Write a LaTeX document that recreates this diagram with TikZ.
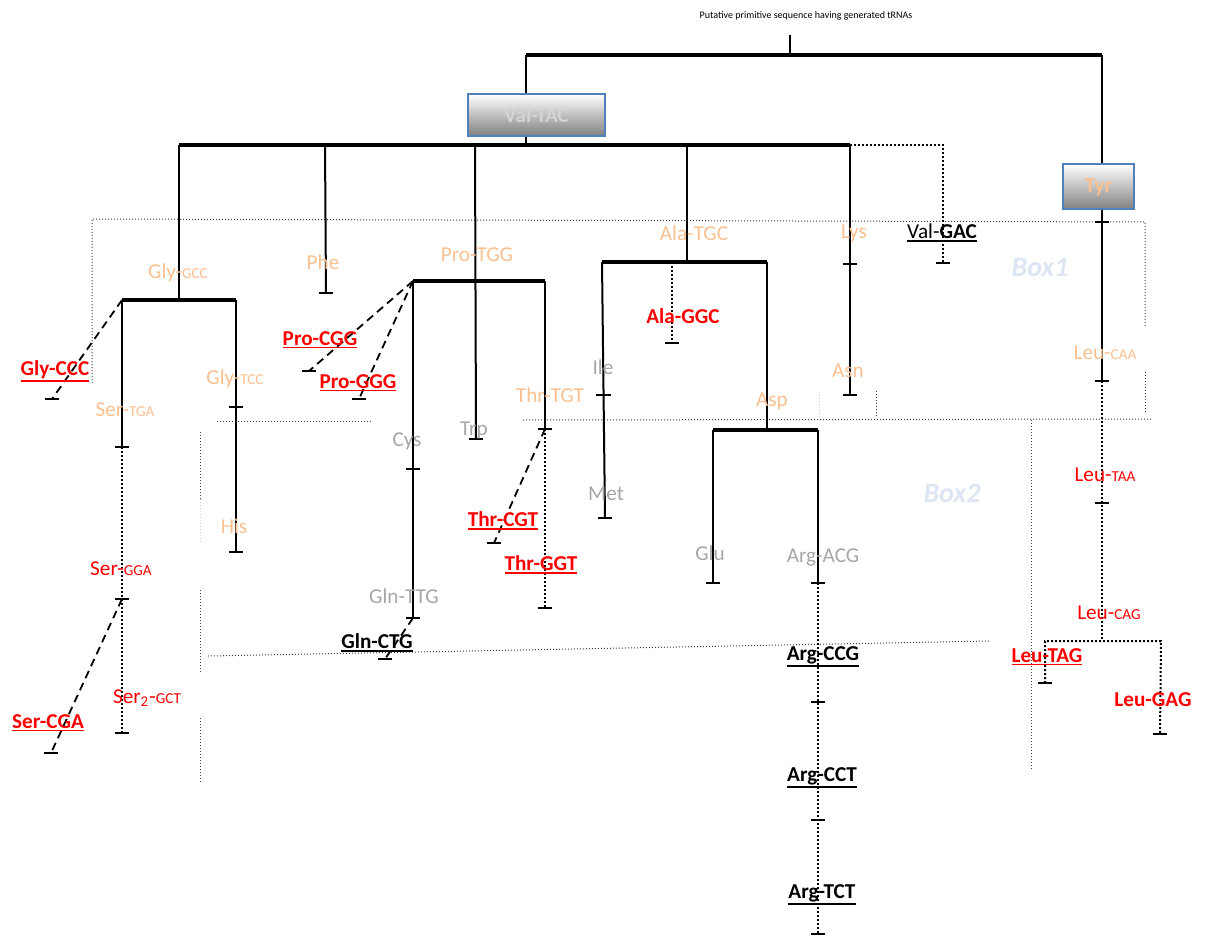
\documentclass[tikz,border=0pt]{standalone}
\usepackage{fontspec}
\setmainfont{Carlito}
\definecolor{lorange}{HTML}{FAC090}
\definecolor{lgray}{HTML}{A6A6A6}
\definecolor{boxblue}{HTML}{4F81BD}
\definecolor{boxlbl}{HTML}{DCE6F2}
\definecolor{valtxt}{HTML}{D4D4D4}
\newcommand\myul[1]{\vtop{\hbox{#1}\kern0.5pt\hrule height 0.9pt}}
\newcommand\sm[1]{{\fontsize{7.6}{9}\selectfont #1}}
\newcommand\tk[1]{\draw[tickline] ([xshift=-3.6pt]#1) -- ([xshift=3.6pt]#1);}
\tikzset{
  lbl/.style={inner sep=0pt, font=\fontsize{10.6}{12}\selectfont},
  orl/.style={lbl, text=lorange},
  gyl/.style={lbl, text=lgray},
  rdl/.style={lbl, text=red},
  rdb/.style={lbl, text=red, font=\fontsize{10.6}{12}\selectfont\bfseries},
  bkb/.style={lbl, text=black, font=\fontsize{10.6}{12}\selectfont\bfseries},
  boxlabel/.style={inner sep=0pt, text=boxlbl, font=\fontsize{14}{16}\selectfont\bfseries\itshape},
  gradbox/.style={draw=boxblue, line width=1pt, top color=white, bottom color=black!50, inner sep=0pt, font=\fontsize{10.6}{12}\selectfont\bfseries},
  treeline/.style={line width=1pt, black},
  treebar/.style={line width=1.8pt, black},
  treedot/.style={line width=1pt, black, dash pattern=on 1pt off 1pt},
  treedash/.style={line width=0.9pt, black, dash pattern=on 4pt off 2.6pt},
  tickline/.style={line width=1pt, black},
  boxdot/.style={line width=0.5pt, black!75, dash pattern=on 0.5pt off 1pt},
  faintdot/.style={line width=0.5pt, black!20, dash pattern=on 0.5pt off 1pt},
}
\begin{document}
\begin{tikzpicture}[x=0.5pt,y=-0.5pt]
\useasboundingbox (0,0) rectangle (1209,936);

% title
\node[inner sep=0pt, font=\fontsize{5}{6}\selectfont] (title) at (806,16) {Putative primitive sequence having generated tRNAs};

% boxes
\node[gradbox, minimum width=68.5pt, minimum height=21pt, text=valtxt] (val) at (536.5,115) {Val-TAC};
\node[gradbox, minimum width=35.5pt, minimum height=22.5pt, text=lorange] (tyr) at (1098.5,187) {Tyr};

% dotted box outlines
\draw[boxdot] (92,383) -- (92,219) -- (1145,222) -- (1145,327);
\draw[boxdot] (1145,372) -- (1145,413);
\draw[boxdot] (217,421) -- (372,421);
\draw[boxdot] (523,420) -- (1152,419);
\draw[boxdot] (876,391) -- (876,416);
\draw[faintdot] (819,392) -- (819,417);
\draw[boxdot] (1031,420) -- (1031,770);
\draw[boxdot] (200,432) -- (200,499);
\draw[faintdot] (200,499) -- (200,543);
\draw[boxdot] (200,590) -- (200,672);
\draw[boxdot] (200,718) -- (200,783);
\draw[boxdot] (208,656) -- (990,641);

\node[boxlabel] (box1) at (1040,268) {Box1};
\node[boxlabel] (box2) at (952,493) {Box2};

% coordinates
\coordinate (r0) at (790,35);
\coordinate (r1) at (790,55);
\coordinate (tl) at (526,55);
\coordinate (tr) at (1102,55);
\coordinate (v0) at (526,145);
\coordinate (b1L) at (179,145);
\coordinate (b1R) at (850,145);
\coordinate (vgE) at (943,145);
\coordinate (vgT) at (943,263);
\coordinate (gly) at (179,300);
\coordinate (glyL) at (122,300);
\coordinate (glyR) at (236,300);
\coordinate (gccT) at (52,399);
\coordinate (serT) at (122,447);
\coordinate (serGT) at (122,599);
\coordinate (ser2T) at (122,733);
\coordinate (scgaT) at (51,753);
\coordinate (gtccT) at (236,407);
\coordinate (hisT) at (236,552);
\coordinate (pheTop) at (325,145);
\coordinate (pheT) at (326,293);
\coordinate (trpTop) at (475,145);
\coordinate (trpT) at (476,439);
\coordinate (proL) at (413,281);
\coordinate (proR) at (545,281);
\coordinate (pcggT) at (309,371);
\coordinate (pgggT) at (359,399);
\coordinate (cysT) at (413,469);
\coordinate (glnT) at (413,618);
\coordinate (ctgT) at (385,659);
\coordinate (ttgtT) at (545,429);
\coordinate (tggtT) at (545,608);
\coordinate (tcgtT) at (494,543);
\coordinate (alaTop) at (687,145);
\coordinate (ala) at (687,262);
\coordinate (alaL) at (602,262);
\coordinate (alaR) at (767,262);
\coordinate (aggTop) at (672,262);
\coordinate (aggT) at (672,343);
\coordinate (ileT) at (603.5,395);
\coordinate (metT) at (605,518);
\coordinate (asp) at (767,430);
\coordinate (aspL) at (713,430);
\coordinate (aspR) at (818,430);
\coordinate (gluT) at (713,583);
\coordinate (acgT) at (818,583);
\coordinate (ccgT) at (818,702);
\coordinate (cctT) at (818,820);
\coordinate (tctT) at (818,934);
\coordinate (lysT) at (850,264);
\coordinate (asnT) at (850,395);
\coordinate (tyrT) at (1102,222);
\coordinate (caaT) at (1102,381);
\coordinate (taaT) at (1102,503);
\coordinate (cagB) at (1102,641);
\coordinate (cagL) at (1045,641);
\coordinate (cagR) at (1161,641);
\coordinate (tagT) at (1045,683);
\coordinate (gagT) at (1160,734);

% tree
\draw[treeline] (r0) -- (r1);
\draw[treebar] (tl) -- (tr);
\draw[treeline] (tl) -- (tl |- val.north);
\draw[treeline] (tr) -- (tr |- tyr.north);
\draw[treeline] (tl |- val.south) -- (v0);
\draw[treebar] (b1L) -- (b1R);
\draw[treedot] (b1R) -- (vgE) -- (vgT);
\tk{vgT}

% Gly
\draw[treeline] (b1L) -- (gly);
\draw[treebar] (glyL) -- (glyR);
\draw[treedash] (glyL) -- (gccT);
\tk{gccT}
\draw[treeline] (glyL) -- (serT);
\draw[treedot] (serT) -- (ser2T);
\tk{serT} \tk{serGT} \tk{ser2T}
\draw[treedash] (serGT) -- (scgaT);
\tk{scgaT}
\draw[treeline] (glyR) -- (hisT);
\tk{gtccT} \tk{hisT}

% Phe, Trp
\draw[treeline] (pheTop) -- (pheT);
\tk{pheT}
\draw[treeline] (trpTop) -- (trpT);
\tk{trpT}

% Pro
\draw[treebar] (proL) -- (proR);
\draw[treedash] (proL) -- (pcggT);
\draw[treedash] (proL) -- (pgggT);
\tk{pcggT} \tk{pgggT}
\draw[treeline] (proL) -- (glnT);
\tk{cysT} \tk{glnT}
\draw[treedash] (glnT) -- (ctgT);
\tk{ctgT}
\draw[treeline] (proR) -- (ttgtT);
\draw[treedot] (ttgtT) -- (tggtT);
\tk{ttgtT} \tk{tggtT}
\draw[treedash] (ttgtT) -- (tcgtT);
\tk{tcgtT}

% Ala
\draw[treeline] (alaTop) -- (ala);
\draw[treebar] (alaL) -- (alaR);
\draw[treedot] (aggTop) -- (aggT);
\tk{aggT}
\draw[treeline] (alaL) -- (metT);
\tk{ileT} \tk{metT}
\draw[treeline] (alaR) -- (asp);
\draw[treebar] (aspL) -- (aspR);
\draw[treeline] (aspL) -- (gluT);
\tk{gluT}
\draw[treeline] (aspR) -- (acgT);
\draw[treedot] (acgT) -- (tctT);
\tk{acgT} \tk{ccgT} \tk{cctT} \tk{tctT}

% Lys
\draw[treeline] (b1R) -- (asnT);
\tk{lysT} \tk{asnT}

% Tyr / Leu
\draw[treeline] (tr |- tyr.south) -- (caaT);
\tk{tyrT} \tk{caaT}
\draw[treedot] (caaT) -- (cagB);
\tk{taaT}
\draw[treedot] (tagT) -- (cagL) -- (cagR) -- (gagT);
\tk{tagT} \tk{gagT}

% labels
\node[orl] (lglygcc) at (178,273) {Gly-\sm{GCC}};
\node[rdb] (lglyccc) at (55,371) {\myul{Gly-CCC}};
\node[orl] (lsertga) at (125,410) {Ser-\sm{TGA}};
\node[orl] (lglytcc) at (235,379) {Gly-\sm{TCC}};
\node[orl] (lhis) at (234,526) {His};
\node[rdl] (lsergga) at (121,569) {Ser-\sm{GGA}};
\node[rdl] (lser2) at (147,698) {Ser\textsubscript{2}-\sm{GCT}};
\node[rdb] (lsercga) at (48,723) {\myul{Ser-CGA}};
\node[orl] (lphe) at (323,262) {Phe};
\node[orl] (lprotgg) at (477,255) {Pro-TGG};
\node[rdb] (lprocgg) at (320,340) {\myul{Pro-CGG}};
\node[rdb] (lproggg) at (358,383) {\myul{Pro-GGG}};
\node[gyl] (lcys) at (407,441) {Cys};
\node[gyl] (lglnttg) at (404,596) {Gln-TTG};
\node[bkb] (lglnctg) at (377,643) {\myul{Gln-CTG}};
\node[gyl] (ltrp) at (474,430) {Trp};
\node[orl] (lthrtgt) at (550,395) {Thr-TGT};
\node[rdb] (lthrcgt) at (503,521) {\myul{Thr-CGT}};
\node[rdb] (lthrggt) at (541,565) {\myul{Thr-GGT}};
\node[orl] (lalatgc) at (694,233) {Ala-TGC};
\node[rdb] (lalaggc) at (683,316) {Ala-GGC};
\node[gyl] (lile) at (603,367) {Ile};
\node[gyl] (lmet) at (606,494) {Met};
\node[orl] (lasp) at (772,401) {Asp};
\node[gyl] (lglu) at (710,553) {Glu};
\node[gyl] (largacg) at (823,557) {Arg-ACG};
\node[bkb] (largccg) at (823,657) {\myul{Arg-CCG}};
\node[bkb] (largcct) at (822,778) {\myul{Arg-CCT}};
\node[bkb] (largtct) at (822,895) {\myul{Arg-TCT}};
\node[orl] (llys) at (854,233) {Lys};
\node[orl] (lasn) at (848,371) {Asn};
\node[lbl] (lvalgac) at (942,233) {\myul{Val-\textbf{GAC}}};
\node[orl] (lleucaa) at (1105,353) {Leu-\sm{CAA}};
\node[rdl] (lleutaa) at (1105,475) {Leu-\sm{TAA}};
\node[rdl] (lleucag) at (1109,613) {Leu-\sm{CAG}};
\node[rdb] (lleutag) at (1047,657) {\myul{Leu-TAG}};
\node[rdb] (lleugag) at (1153,700) {Leu-GAG};
\end{tikzpicture}
\end{document}
